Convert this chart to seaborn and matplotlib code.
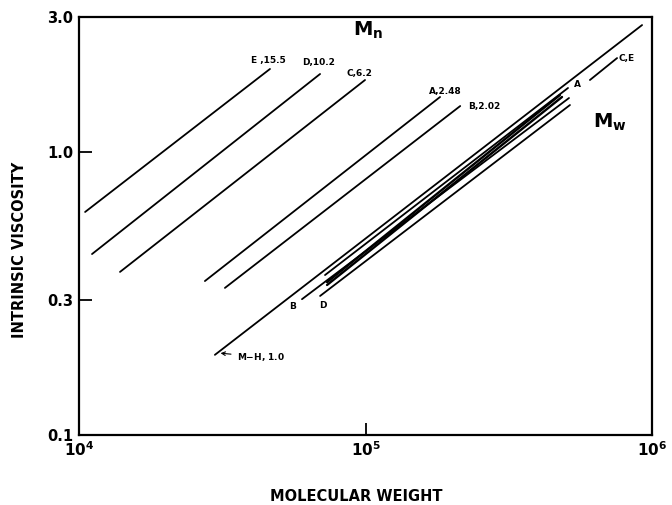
import numpy as np
import pandas as pd
import matplotlib
matplotlib.use("Agg")
import matplotlib.pyplot as plt
import seaborn as sns

# ==============================
# DATA
# ==============================

# number-average lines (Mn)
mn_labels = ["E ,15.5", "D,10.2", "C,6.2", "A,2.48", "B,2.02"]
mn_m_start = [1.05e4, 1.11e4, 1.39e4, 2.75e4, 3.23e4]
mn_m_end = [4.64e4, 6.94e4, 9.96e4, 1.82e5, 2.14e5]
mn_eta_start = [0.614, 0.436, 0.377, 0.350, 0.331]
mn_eta_end = [1.966, 1.887, 1.797, 1.565, 1.454]
mn_label_m = [4.57e4, 6.88e4, 9.56e4, 1.895e5, 2.59e5]
mn_label_eta = [2.10, 2.08, 1.90, 1.63, 1.443]

# weight-average lines (Mw)
mw_names = ["M-H", "A", "thick1", "thick2", "B", "D", "C,E"]
mw_m_start = [2.98e4, 7.22e4, 7.34e4, 7.34e4, 6.00e4, 6.94e4, 6.07e5]
mw_m_end = [9.23e5, 5.09e5, 4.77e5, 4.85e5, 5.13e5, 5.17e5, 7.55e5]
mw_eta_start = [0.192, 0.3675, 0.347, 0.339, 0.302, 0.310, 1.797]
mw_eta_end = [2.81, 1.684, 1.590, 1.565, 1.552, 1.466, 2.148]
mw_width = [1.3, 1.3, 1.7, 1.7, 1.3, 1.3, 1.3]

# small labels on the Mw lines
mw_labels = ["C,E", "A", "B", "D"]
mw_label_m = [8.12e5, 5.47e5, 5.58e4, 7.11e4]
mw_label_eta = [2.148, 1.726, 0.2834, 0.2857]

x_ticks = [1e4, 1e5, 1e6]
x_tick_labels = ["10$^{4}$", "10$^{5}$", "10$^{6}$"]
y_ticks = [0.1, 0.3, 1.0, 3.0]
y_tick_labels = ["0.1", "0.3", "1.0", "3.0"]

# ==============================
# PLOT
# ==============================

sns.set_theme(style="white")
plt.rcParams['font.family'] = ['DejaVu Sans']
plt.rcParams['mathtext.default'] = 'bf'
plt.rcParams['text.color'] = 'black'
plt.rcParams['axes.labelcolor'] = 'black'
plt.rcParams['xtick.color'] = 'black'
plt.rcParams['ytick.color'] = 'black'

fig = plt.figure(figsize=(6.72, 5.05), dpi=100)
ax = fig.add_axes([0.1176, 0.1386, 0.8527, 0.8277])

for i in range(len(mn_labels)):
    sns.lineplot(x=[mn_m_start[i], mn_m_end[i]], y=[mn_eta_start[i], mn_eta_end[i]],
                 color="black", linewidth=1.3, ax=ax)
    ax.text(mn_label_m[i], mn_label_eta[i], mn_labels[i], fontsize=6.5,
            fontweight="bold", ha="center", va="center")

for i in range(len(mw_names)):
    sns.lineplot(x=[mw_m_start[i], mw_m_end[i]], y=[mw_eta_start[i], mw_eta_end[i]],
                 color="black", linewidth=mw_width[i], ax=ax)

for i in range(len(mw_labels)):
    ax.text(mw_label_m[i], mw_label_eta[i], mw_labels[i], fontsize=6.5,
            fontweight="bold", ha="center", va="center")

# Mark-Houwink label with arrow
ax.annotate("M$-$H, 1.0", xy=(3.05e4, 0.195), xytext=(3.56e4, 0.1887),
            fontsize=6.5, fontweight="bold", va="center", ha="left",
            arrowprops=dict(arrowstyle="->", color="black", lw=0.8))

ax.text(1.02e5, 2.70, "M$_{n}$", fontsize=14, fontweight="bold", ha="center", va="center")
ax.text(7.14e5, 1.277, "M$_{w}$", fontsize=14, fontweight="bold", ha="center", va="center")

ax.set_xscale("log")
ax.set_yscale("log")
ax.set_xlim(1e4, 1e6)
ax.set_ylim(0.1, 3.0)
ax.minorticks_off()
ax.set_xticks(x_ticks)
ax.set_xticklabels(x_tick_labels, fontsize=11, fontweight="bold")
ax.set_yticks(y_ticks)
ax.set_yticklabels(y_tick_labels, fontsize=10.5, fontweight="bold")
ax.tick_params(axis="both", direction="in", length=9, width=1.3, color="black",
               bottom=True, left=True, pad=4)

for s in ax.spines.values():
    s.set_color("black")
    s.set_linewidth(1.6)

ax.set_xlabel("MOLECULAR WEIGHT", fontsize=10.5, fontweight="bold")
ax.set_ylabel("INTRINSIC VISCOSITY", fontsize=10.5, fontweight="bold")
ax.xaxis.set_label_coords(0.483, -0.13)
ax.yaxis.set_label_coords(-0.09, 0.443)

fig.savefig("out.png", dpi=100)
